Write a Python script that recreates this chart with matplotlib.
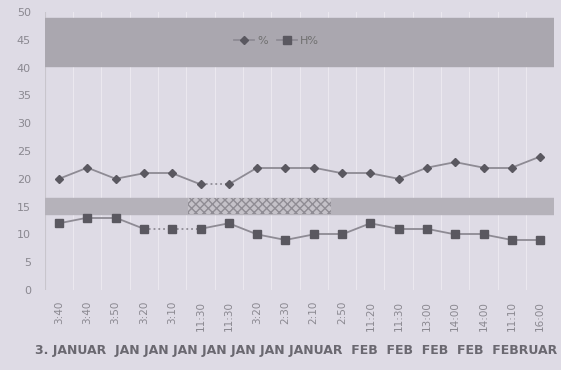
import matplotlib
matplotlib.use("Agg")
import matplotlib.pyplot as plt
import numpy as np

times = ["3:40", "3:40", "3:50", "3:20", "3:10", "11:30", "11:30", "3:20", "2:30",
         "2:10", "2:50", "11:20", "11:30", "13:00", "14:00", "14:00", "11:10", "16:00"]
temp_pct = [20, 22, 20, 21, 21, 19, 19, 22, 22, 22, 21, 21, 20, 22, 23, 22, 22, 24]
hum_pct = [12, 13, 13, 11, 11, 11, 12, 10, 9, 10, 10, 12, 11, 11, 10, 10, 9, 9]
date_row = "3. JANUAR  JAN JAN JAN JAN JAN JAN JANUAR  FEB  FEB  FEB  FEB  FEBRUAR"
# segments drawn dotted (index of segment start)
dotted_t = [5]
dotted_h = [3, 4]

bg = "#dedbe5"
fig = plt.figure(figsize=(5.61, 3.70), dpi=100, facecolor=bg)
ax = fig.add_axes([0.080, 0.2162, 0.908, 0.7514], facecolor=bg)

x = np.arange(len(times))
ax.set_xlim(-0.5, len(times) - 0.5)
ax.set_ylim(0, 50)

# faint vertical separators
for b in np.arange(-0.5, len(times), 1.0):
    ax.axvline(b, color="#ebe8ef", lw=0.8, zorder=0)

# grey header band and mid band
ax.axhspan(40.3, 49.0, color="#aaa7af", zorder=1)
ax.axhspan(13.6, 16.5, color="#b5b2ba", zorder=1)
ax.fill_between([4.55, 9.6], 13.6, 16.5, facecolor="#c4c1c8", hatch="xxxx",
                edgecolor="#8f8c94", lw=0, zorder=1)

line_c = "#8e8b94"
mark_c = "#5a5860"

def draw_series(vals, marker, dotted, ms):
    for i in range(len(vals) - 1):
        ls = ":" if i in dotted else "-"
        ax.plot(x[i:i + 2], vals[i:i + 2], color=line_c, lw=1.3, ls=ls, zorder=3)
    ax.plot(x, vals, ls="none", marker=marker, ms=ms, color=mark_c, zorder=4)

draw_series(temp_pct, "D", dotted_t, 4.2)
draw_series(hum_pct, "s", dotted_h, 5.5)

# legend handles
h1, = ax.plot([], [], color=line_c, lw=1.3, marker="D", ms=4.2, mfc=mark_c, mec=mark_c)
h2, = ax.plot([], [], color=line_c, lw=1.3, marker="s", ms=5.5, mfc=mark_c, mec=mark_c)
leg = ax.legend([h1, h2], ["%", "H%"], loc="center", bbox_to_anchor=(0.455, 0.895),
                ncol=2, frameon=False, fontsize=8, handlelength=1.8,
                columnspacing=0.8, handletextpad=0.3)
for t in leg.get_texts():
    t.set_color("#707070")

ax.set_yticks(np.arange(0, 51, 5))
ax.set_yticklabels([str(v) for v in range(0, 51, 5)], color="#8a8890", fontsize=8)
ax.set_xticks(x)
ax.set_xticklabels(times, rotation=90, color="#8a8890", fontsize=7.5)
ax.tick_params(length=0, pad=8)
ax.tick_params(axis="y", pad=10)
for s in ax.spines.values():
    s.set_visible(False)
ax.axvline(-0.5, color="#c8c5cc", lw=0.8, zorder=0)

fig.text(0.062, 0.035, date_row, fontsize=9.0, fontweight="bold", color="#6a6870",
         family="DejaVu Sans", ha="left", va="bottom")

fig.savefig("out.png", dpi=100, facecolor=bg)
